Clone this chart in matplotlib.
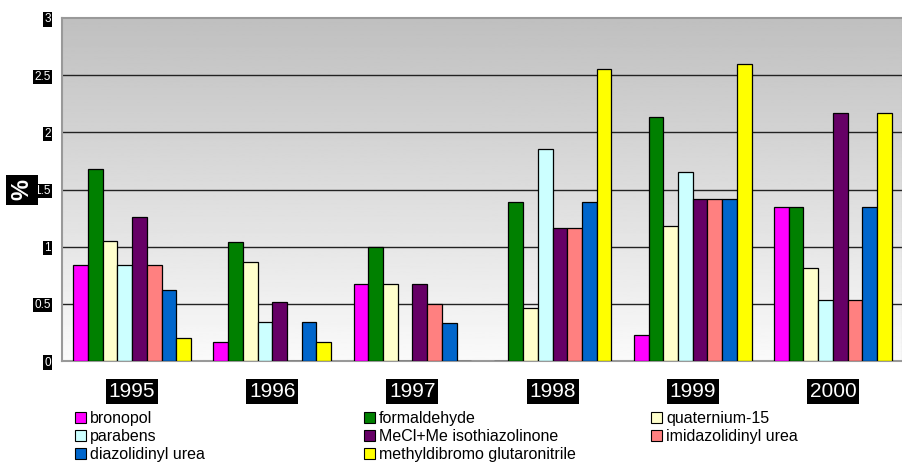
import matplotlib.pyplot as plt
import numpy as np
from matplotlib.patches import Patch

years = ["1995", "1996", "1997", "1998", "1999", "2000"]
names = ["bronopol", "formaldehyde", "quaternium-15", "parabens",
         "MeCl+Me isothiazolinone", "imidazolidinyl urea",
         "diazolidinyl urea", "methyldibromo glutaronitrile"]
colors = ["#FF00FF", "#008000", "#FFFFCC", "#CCFFFF",
          "#660066", "#FF8080", "#0066CC", "#FFFF00"]

bronopol = [0.84, 0.17, 0.67, 0.0, 0.23, 1.35]
formaldehyde = [1.68, 1.04, 1.00, 1.39, 2.13, 1.35]
quaternium = [1.05, 0.87, 0.67, 0.46, 1.18, 0.81]
parabens = [0.84, 0.34, 0.0, 1.85, 1.65, 0.53]
mecl = [1.26, 0.52, 0.67, 1.16, 1.42, 2.17]
imidazolidinyl = [0.84, 0.0, 0.50, 1.16, 1.42, 0.53]
diazolidinyl = [0.62, 0.34, 0.33, 1.39, 1.42, 1.35]
methyldibromo = [0.20, 0.17, 0.0, 2.55, 2.60, 2.17]
series = [bronopol, formaldehyde, quaternium, parabens,
          mecl, imidazolidinyl, diazolidinyl, methyldibromo]

W, H = 903, 466
fig = plt.figure(figsize=(W / 100, H / 100), dpi=100)
ax = fig.add_axes([62 / W, (H - 361) / H, 841 / W, 343 / H])

# gray gradient background
grad = np.linspace(0.98, 0.75, 256).reshape(-1, 1)
ax.imshow(grad, cmap="gray", vmin=0, vmax=1, aspect="auto",
          extent=(-0.5, 5.5, 0, 3), origin="lower", zorder=0)

x = np.arange(len(years))
bw = 0.105
for i, (vals, c) in enumerate(zip(series, colors)):
    ax.bar(x + (i - 3.5) * bw, vals, bw, color=c, edgecolor="black",
           linewidth=0.9, zorder=3)

ax.set_xlim(-0.5, 5.5)
ax.set_ylim(0, 3)
ax.set_yticks([0, 0.5, 1, 1.5, 2, 2.5, 3])
ax.set_yticklabels(["0", "0.5", "1", "1.5", "2", "2.5", "3"])
for yv in [0.5, 1, 1.5, 2, 2.5]:
    ax.axhline(yv, color="#222222", linewidth=1, zorder=1)

ax.set_xticks(x)
ax.set_xticklabels(years)
ax.tick_params(axis="x", length=0, pad=15, labelsize=15, labelcolor="white")
ax.tick_params(axis="y", length=0, pad=8, labelsize=8.5, labelcolor="white")
for lab in ax.get_xticklabels():
    lab.set_fontfamily(["Liberation Sans", "DejaVu Sans"])
    lab.set_bbox(dict(facecolor="black", edgecolor="none", pad=2))
for lab in ax.get_yticklabels():
    lab.set_fontfamily(["Liberation Sans", "DejaVu Sans"])
    lab.set_bbox(dict(facecolor="black", edgecolor="none", pad=0.8))

for sp in ax.spines.values():
    sp.set_color("#999999")
    sp.set_linestyle((0, (1, 1)))
    sp.set_linewidth(1.5)

fig.text(22 / W, 1 - 190 / H, "%", rotation=90, color="white",
         fontsize=17, fontweight="bold", ha="center", va="center",
         family=["Liberation Sans", "DejaVu Sans"],
         bbox=dict(facecolor="black", edgecolor="none", pad=3))

# legend in three columns
handles = [Patch(facecolor=c, edgecolor="black", linewidth=0.8) for c in colors]
cols = [[0, 3, 6], [1, 4, 7], [2, 5]]
col_x = [75, 364, 651]
for cx, idx in zip(col_x, cols):
    leg = fig.legend([handles[k] for k in idx], [names[k] for k in idx],
                     loc="upper left", bbox_to_anchor=(cx / W, 1 - 411 / H),
                     frameon=False, handlelength=0.7,
                     handleheight=0.7, handletextpad=0.25, labelspacing=0.2,
                     borderpad=0, borderaxespad=0,
                     prop={"family": ["Liberation Sans", "DejaVu Sans"], "size": 11.5})

fig.savefig("out.png", dpi=100)
